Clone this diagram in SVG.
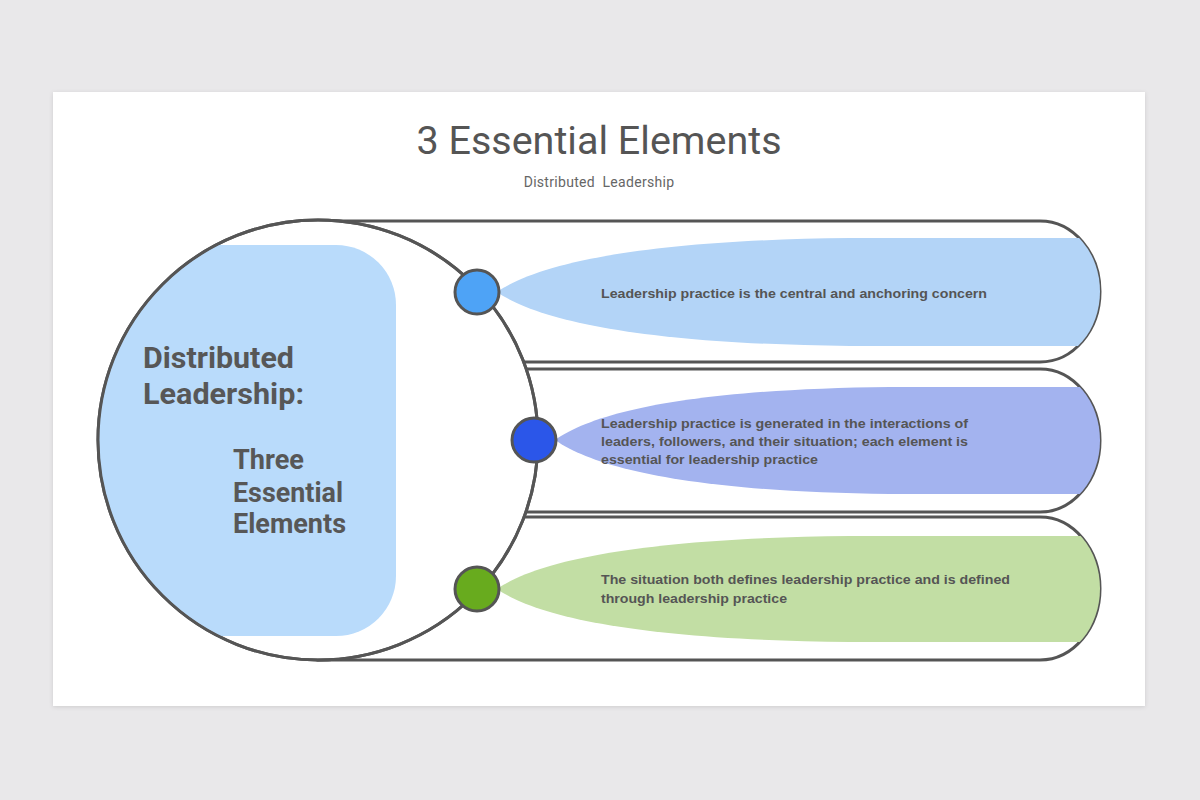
<svg xmlns="http://www.w3.org/2000/svg" width="1200" height="800" viewBox="0 0 1200 800">
  <defs>
    <style>
      .outline { fill: #ffffff; stroke: #555555; stroke-width: 3; }
      .dot { stroke: #555555; stroke-width: 3; }
      .item { font-family: "Liberation Sans", Arial, sans-serif; font-weight: bold; font-size: 13px; fill: #555555; }
      .side { font-family: Roboto, "Liberation Sans", sans-serif; font-weight: bold; fill: #575757; }
    </style>
    <filter id="shadow" x="-5%" y="-5%" width="110%" height="110%">
      <feDropShadow dx="0" dy="1" stdDeviation="2" flood-color="#000000" flood-opacity="0.12"/>
    </filter>
    <clipPath id="clip1"><path d="M 300 221 H 1040 A 60 70.5 0 0 1 1040 362 H 300 Z"/></clipPath>
    <clipPath id="clip2"><path d="M 300 369 H 1040 A 60 71.5 0 0 1 1040 512 H 300 Z"/></clipPath>
    <clipPath id="clip3"><path d="M 300 517 H 1040 A 60 71.5 0 0 1 1040 660 H 300 Z"/></clipPath>
    <clipPath id="circleClip"><circle cx="318" cy="440" r="219"/></clipPath>
  </defs>

  <rect x="0" y="0" width="1200" height="800" fill="#e9e8ea"/>
  <rect x="53" y="92" width="1092" height="614" fill="#ffffff" filter="url(#shadow)"/>

  <g id="title">
    <text x="599" y="154" text-anchor="middle" font-family="Roboto, 'Liberation Sans', sans-serif" font-size="39.5" fill="#555555">3 Essential Elements</text>
    <text x="599" y="187" text-anchor="middle" font-family="Roboto, 'Liberation Sans', sans-serif" font-size="14" letter-spacing="0.3" fill="#666666" xml:space="preserve">Distributed  Leadership</text>
  </g>

  <g id="pill1">
    <path class="outline" d="M 318 221 H 1040 A 60 70.5 0 0 1 1040 362 H 318 Z"/>
    <path clip-path="url(#clip1)" fill="#b3d4f7" d="M 497 292 C 540 262, 650 240, 850 238 L 1110 238 L 1110 346 L 850 346 C 650 344, 540 322, 497 292 Z"/>
  </g>
  <g id="pill2">
    <path class="outline" d="M 318 369 H 1040 A 60 71.5 0 0 1 1040 512 H 318 Z"/>
    <path clip-path="url(#clip2)" fill="#a3b3ef" d="M 555 440 C 598 410, 700 389, 890 387 L 1110 387 L 1110 494 L 890 494 C 700 492, 598 470, 555 440 Z"/>
  </g>
  <g id="pill3">
    <path class="outline" d="M 318 517 H 1040 A 60 71.5 0 0 1 1040 660 H 318 Z"/>
    <path clip-path="url(#clip3)" fill="#c2dea4" d="M 497 589 C 540 559, 650 538, 850 536 L 1110 536 L 1110 642 L 850 642 C 650 640, 540 619, 497 589 Z"/>
  </g>

  <g id="hub">
    <circle class="outline" cx="318" cy="440" r="220"/>
    <rect x="90" y="245" width="306" height="391" rx="60" ry="60" fill="#b9dbfb" clip-path="url(#circleClip)"/>
    <circle cx="318" cy="440" r="220" fill="none" stroke="#555555" stroke-width="3"/>
    <text class="side" x="143" y="368" font-size="29.5" textLength="151" lengthAdjust="spacingAndGlyphs">Distributed</text>
    <text class="side" x="143" y="404" font-size="29.5" textLength="161" lengthAdjust="spacingAndGlyphs">Leadership:</text>
    <text class="side" x="233" y="469" font-size="27" textLength="71" lengthAdjust="spacingAndGlyphs">Three</text>
    <text class="side" x="233" y="502" font-size="27" textLength="110" lengthAdjust="spacingAndGlyphs">Essential</text>
    <text class="side" x="233" y="533" font-size="27" textLength="113" lengthAdjust="spacingAndGlyphs">Elements</text>
  </g>

  <g id="connectors">
    <circle class="dot" cx="477" cy="292" r="22" fill="#4ea3f6"/>
    <circle class="dot" cx="534" cy="440" r="22" fill="#2b56e9"/>
    <circle class="dot" cx="477" cy="589" r="22" fill="#68ab1e"/>
  </g>

  <g id="text1">
    <text class="item" x="601" y="298" textLength="386" lengthAdjust="spacingAndGlyphs">Leadership practice is the central and anchoring concern</text>
  </g>
  <g id="text2">
    <text class="item" x="601" y="428" textLength="367" lengthAdjust="spacingAndGlyphs">Leadership practice is generated in the interactions of</text>
    <text class="item" x="601" y="446" textLength="367" lengthAdjust="spacingAndGlyphs">leaders, followers, and their situation; each element is</text>
    <text class="item" x="601" y="464" textLength="217" lengthAdjust="spacingAndGlyphs">essential for leadership practice</text>
  </g>
  <g id="text3">
    <text class="item" x="601" y="584" textLength="409" lengthAdjust="spacingAndGlyphs">The situation both defines leadership practice and is defined</text>
    <text class="item" x="601" y="603" textLength="186" lengthAdjust="spacingAndGlyphs">through leadership practice</text>
  </g>
</svg>
